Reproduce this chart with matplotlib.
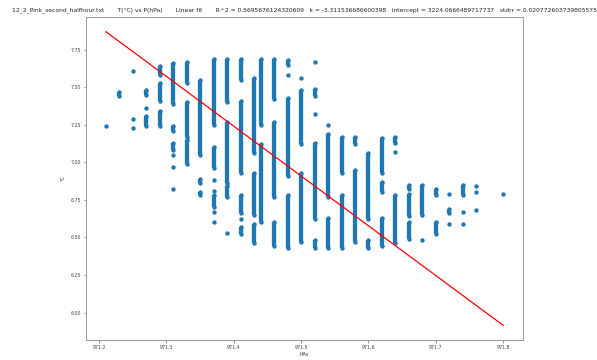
import matplotlib
matplotlib.use("Agg")
import matplotlib.pyplot as plt
import numpy as np

# pressure columns (hPa) and the temperature readings seen in each
pressure = [971.21, 971.23, 971.25, 971.27, 971.29, 971.31, 971.33, 971.35,
            971.37, 971.39, 971.41, 971.43, 971.44, 971.46, 971.48, 971.50,
            971.52, 971.54, 971.56, 971.58, 971.60, 971.62, 971.64, 971.66,
            971.68, 971.70, 971.72, 971.74, 971.76, 971.80]

# contiguous runs of readings (low, high) per column
temp_runs = [
    [],
    [(7.44, 7.47)],
    [],
    [(7.45, 7.48), (7.24, 7.31)],
    [(7.58, 7.64), (7.41, 7.53), (7.24, 7.34)],
    [(7.39, 7.66), (7.21, 7.24), (7.08, 7.13)],
    [(7.53, 7.67), (7.17, 7.40), (6.99, 7.15)],
    [(7.05, 7.55), (6.86, 6.89), (6.78, 6.80)],
    [(7.25, 7.69), (6.96, 7.10), (6.70, 6.78)],
    [(7.40, 7.69), (6.86, 7.27), (6.77, 6.84)],
    [(7.55, 7.69), (6.93, 7.41), (6.66, 6.78), (6.52, 6.57)],
    [(7.06, 7.56), (6.65, 6.93), (6.46, 6.59)],
    [(7.25, 7.69), (6.60, 7.12)],
    [(7.42, 7.69), (6.77, 7.27), (6.44, 6.60)],
    [(7.65, 7.68), (6.91, 7.43), (6.43, 6.78)],
    [(7.12, 7.48), (6.47, 6.93)],
    [(7.44, 7.49), (6.62, 7.13), (6.43, 6.48)],
    [(6.77, 7.19), (6.43, 6.63)],
    [(6.93, 7.17), (6.43, 6.78)],
    [(7.12, 7.17), (6.47, 6.95)],
    [(6.62, 7.06), (6.43, 6.48)],
    [(6.93, 7.16), (6.80, 6.87), (6.44, 6.63)],
    [(7.13, 7.17), (6.46, 6.78)],
    [(6.82, 6.85), (6.64, 6.79), (6.49, 6.60)],
    [(6.65, 6.85)],
    [(6.78, 6.82), (6.52, 6.60)],
    [(6.66, 6.69)],
    [(6.78, 6.85)],
    [],
    [],
]

# isolated readings per column
temp_points = [
    [7.24], [], [7.61, 7.29, 7.23], [7.36], [], [7.05, 6.97, 6.82], [], [],
    [6.88, 6.81, 6.67, 6.60], [6.53], [6.62], [], [], [], [7.58], [7.56],
    [7.67, 7.32], [7.25], [], [], [], [], [7.07], [], [6.48], [], [6.79, 6.59],
    [6.67, 6.59], [6.84, 6.80, 6.68], [6.79],
]

fname = "12_2_Pink_second_halfhour.txt"
r2 = 0.5695676124320609
k = -3.311536686600398
intercept = 3224.0666489717737
stdrr = 0.020772603739805575

blue = "#1f77b4"
dot_s = 10
dot_lw = 3.1

fig = plt.figure(figsize=(5.97, 3.6), dpi=100)
ax = fig.add_axes([86 / 597, 20 / 360, 437 / 597, 323 / 360])

xs, ys = [], []
for p, runs, pts in zip(pressure, temp_runs, temp_points):
    for lo, hi in runs:
        ax.vlines(p, lo, hi, color=blue, linewidth=dot_lw)
        xs += [p, p]
        ys += [lo, hi]
    for t in pts:
        xs.append(p)
        ys.append(t)
ax.scatter(xs, ys, s=dot_s, color=blue, linewidths=0)

px = np.array([min(pressure), max(pressure)])
ax.plot(px, k * px + intercept, color="red", linewidth=0.9)

ax.set_xticks([971.2, 971.3, 971.4, 971.5, 971.6, 971.7, 971.8])
ax.set_yticks([6.00, 6.25, 6.50, 6.75, 7.00, 7.25, 7.50, 7.75])
ax.set_xticklabels(["971.2", "971.3", "971.4", "971.5", "971.6", "971.7", "971.8"])
ax.set_yticklabels(["6.00", "6.25", "6.50", "6.75", "7.00", "7.25", "7.50", "7.75"])
ax.tick_params(labelsize=3.4, length=1.8, width=0.4, pad=1.5,
               colors="#444444")
for sp in ax.spines.values():
    sp.set_color("#999999")
    sp.set_linewidth(0.7)

ax.set_xlabel("hPa", fontsize=3.6, labelpad=1.5, color="#333333")
ax.set_ylabel("°C", fontsize=3.6, labelpad=4, color="#333333")

title = ("{}       T(°C) vs P(hPa)       Linear fit       R^2 = {}   k = {}   "
         "intercept = {}   stdrr = {}").format(fname, r2, k, intercept, stdrr)
ax.set_title(title, fontsize=4.3, pad=4, color="#222222")

fig.savefig("out.png", dpi=100)
